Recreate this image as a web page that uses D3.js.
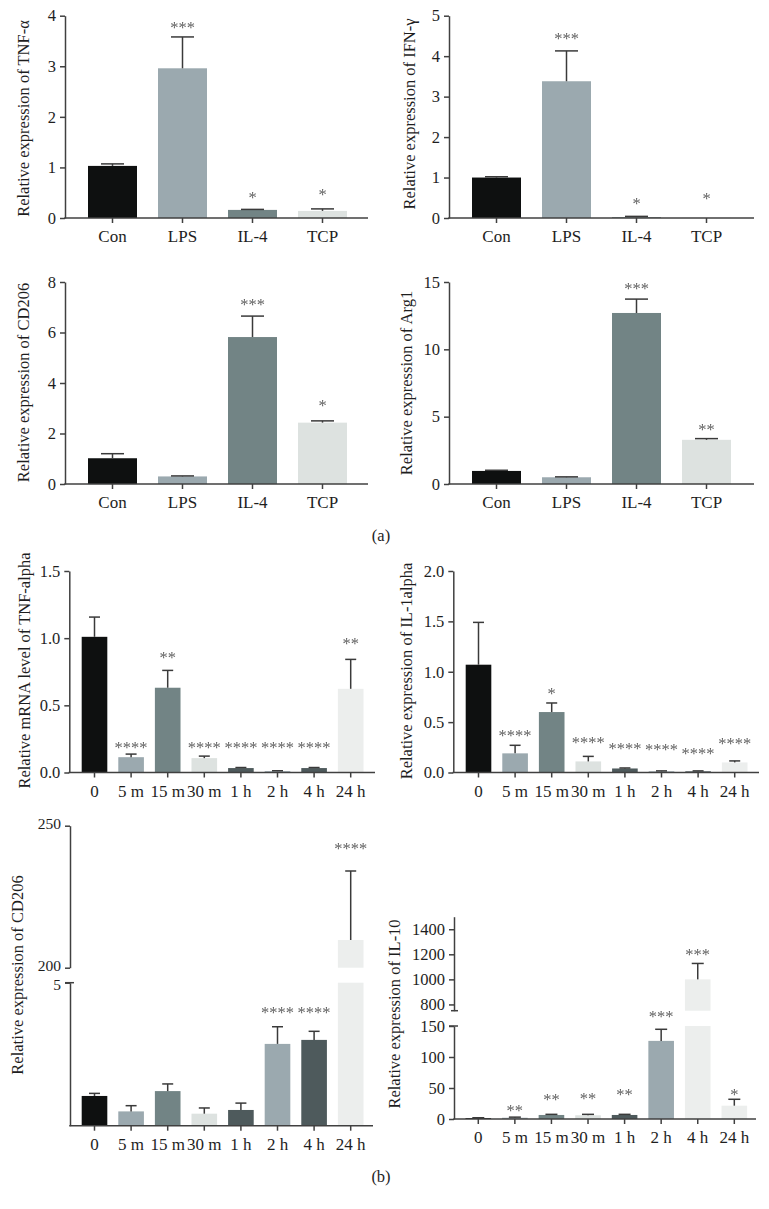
<!DOCTYPE html>
<html><head><meta charset="utf-8">
<script src="https://cdn.jsdelivr.net/npm/d3@7"></script>
<style>
body{margin:0;background:#fff}
text{font-family:"Liberation Serif","Times New Roman",serif}
.star{filter:grayscale(1)}
</style>
</head><body>
<svg id="c" width="769" height="1209"></svg>
<script>
// ---------- data ----------
const catsA = ["Con", "LPS", "IL-4", "TCP"];
const catsB = ["0", "5 m", "15 m", "30 m", "1 h", "2 h", "4 h", "24 h"];

// (a) TNF-α
const tnfMean = [1.03, 2.96, 0.16, 0.14];
const tnfSd = [0.04, 0.62, 0.01, 0.04];
const tnfStars = ["", "***", "*", "*"];
const tnfStarPos = [null, 3.81, 0.45, 0.50];
const tnfTicks = [0, 1, 2, 3, 4];

// (a) IFN-γ
const ifnMean = [1.0, 3.38, 0.02, 0.003];
const ifnSd = [0.02, 0.75, 0.02, 0.0];
const ifnStars = ["", "***", "*", "*"];
const ifnStarPos = [null, 4.48, 0.40, 0.53];
const ifnTicks = [0, 1, 2, 3, 4, 5];

// (a) CD206
const cdaMean = [1.02, 0.30, 5.82, 2.43];
const cdaSd = [0.18, 0.02, 0.83, 0.07];
const cdaStars = ["", "", "***", "*"];
const cdaStarPos = [null, null, 7.17, 3.17];
const cdaTicks = [0, 2, 4, 6, 8];

// (a) Arg1
const argMean = [0.97, 0.50, 12.7, 3.28];
const argSd = [0.05, 0.03, 1.03, 0.09];
const argStars = ["", "", "***", "**"];
const argStarPos = [null, null, 14.7, 4.23];
const argTicks = [0, 5, 10, 15];

// (b) TNF-alpha mRNA
const tnfbMean = [1.01, 0.114, 0.631, 0.107, 0.033, 0.01, 0.033, 0.623];
const tnfbSd = [0.147, 0.023, 0.129, 0.015, 0.004, 0.003, 0.004, 0.219];
const tnfbStars = ["", "****", "**", "****", "****", "****", "****", "**"];
const tnfbStarPos = [null, 0.198, 0.874, 0.198, 0.198, 0.198, 0.198, 0.973];
const tnfbTicks = [0, 0.5, 1.0, 1.5];

// (b) IL-1alpha
const il1Mean = [1.07, 0.19, 0.60, 0.11, 0.04, 0.012, 0.012, 0.10];
const il1Sd = [0.42, 0.08, 0.09, 0.05, 0.005, 0.004, 0.004, 0.015];
const il1Stars = ["", "****", "*", "****", "****", "****", "****", "****"];
const il1StarPos = [null, 0.387, 0.80, 0.32, 0.262, 0.248, 0.21, 0.303];
const il1Ticks = [0, 0.5, 1.0, 1.5, 2.0];

// (b) CD206 (broken axis)
const cdbMean = [1.04, 0.50, 1.21, 0.42, 0.55, 2.86, 3.0, 209.75];
const cdbSd = [0.09, 0.20, 0.25, 0.20, 0.24, 0.60, 0.30, 24.3];
const cdbStars = ["", "", "", "", "", "****", "****", "****"];
const cdbStarPos = [null, null, null, null, null, 4.02, 4.02, 242.6];
const cdbTicksLow = [5];
const cdbTicksHigh = [200, 250];

// (b) IL-10 (broken axis)
const il10Mean = [1.5, 2.0, 6.5, 6.0, 6.5, 126, 1000, 21.5];
const il10Sd = [0.5, 1.0, 1.0, 1.5, 1.0, 18.7, 127, 10.3];
const il10Stars = ["", "**", "**", "**", "**", "***", "***", "*"];
const il10StarPos = [null, 17.3, 35.0, 35.5, 42.4, 169, 1215, 43.0];
const il10TicksLow = [0, 50, 100, 150];
const il10TicksHigh = [800, 1000, 1200, 1400];

// ---------- styles ----------
const BLACK = "#0e1010", BLUEG = "#9ba9af", TEAL = "#728485", LIGHT = "#dde2e0",
      DARK = "#4e5a5c", PALE = "#eceeed";
const colorsA = [BLACK, BLUEG, TEAL, LIGHT];
const colorsB = [BLACK, BLUEG, TEAL, LIGHT, DARK, BLUEG, DARK, PALE];
const colorsIL10 = [BLACK, BLUEG, TEAL, LIGHT, DARK, BLUEG, PALE, PALE];
const AXIS = "#404040", ERR = "#3a3a3a", TXT = "#1e1e1e";
const FONT = '"Liberation Serif","Times New Roman",serif';

const svg = d3.select("#c");

function panel(p) {
  const g = svg.append("g");
  const x = d3.scaleBand().domain(p.cats).range(p.xRange).paddingInner(0.3).paddingOuter(0.15);
  const segs = p.segs.map(s => Object.assign({}, s, {scale: d3.scaleLinear().domain(s.domain).range(s.range)}));
  const segFor = v => {
    let best = segs[0];
    segs.forEach(s => { if (v >= s.domain[0]) best = s; });
    return best;
  };

  // bars
  p.cats.forEach((c, i) => {
    const v = p.mean[i];
    segs.forEach(s => {
      const lo = s.domain[0], hi = s.domain[1];
      if (v > lo) {
        const top = Math.min(v, hi);
        g.append("rect")
          .attr("x", x(c)).attr("width", x.bandwidth())
          .attr("y", s.scale(top)).attr("height", s.scale(lo) - s.scale(top))
          .attr("fill", p.colors[i]);
      }
    });
  });

  // error bars
  p.cats.forEach((c, i) => {
    const v = p.mean[i], e = p.sd[i];
    if (!(e > 0)) return;
    const s = segFor(v);
    const cx = x(c) + x.bandwidth() / 2;
    const y0 = s.scale(v), y1 = s.scale(v + e);
    g.append("line").attr("x1", cx).attr("x2", cx).attr("y1", y0).attr("y2", y1)
      .attr("stroke", ERR).attr("stroke-width", 1.5);
    g.append("line").attr("x1", cx - p.capW / 2).attr("x2", cx + p.capW / 2).attr("y1", y1).attr("y2", y1)
      .attr("stroke", ERR).attr("stroke-width", 1.5);
  });

  // stars
  p.cats.forEach((c, i) => {
    if (!p.stars[i]) return;
    const v = p.starPos[i];
    const s = segFor(v);
    g.append("text").attr("class", "star")
      .attr("x", x(c) + x.bandwidth() / 2).attr("y", s.scale(v) + 7.5)
      .attr("text-anchor", "middle").attr("font-size", 16.5)
      .attr("fill", "#606060")
      .text(p.stars[i]);
  });

  // y axes
  segs.forEach(s => {
    const ax = d3.axisLeft(s.scale).tickValues(s.ticks).tickSize(5).tickSizeOuter(0).tickPadding(4)
      .tickFormat(d3.format(p.fmt));
    const ag = g.append("g").attr("transform", `translate(${p.axisX},0)`).call(ax);
    ag.attr("font-family", FONT).attr("font-size", s.fs || 16.5);
    ag.select(".domain").attr("stroke", AXIS).attr("stroke-width", 1.5);
    ag.selectAll(".tick line").attr("stroke", AXIS).attr("stroke-width", 1.5);
    ag.selectAll(".tick text").attr("fill", TXT);
    if (s.shift) ag.selectAll(".tick text").attr("y", s.shift);
    if (s.stubTop) {
      g.append("line").attr("x1", p.axisX - 5).attr("x2", p.axisX + 4)
        .attr("y1", s.range[1]).attr("y2", s.range[1]).attr("stroke", AXIS).attr("stroke-width", 1.5);
    }
    if (s.stubBottom) {
      g.append("line").attr("x1", p.axisX - 3).attr("x2", p.axisX + 4)
        .attr("y1", s.range[0]).attr("y2", s.range[0]).attr("stroke", AXIS).attr("stroke-width", 1.5);
    }
  });

  // x axis
  g.append("line").attr("x1", p.axisX - 0.75).attr("x2", p.axisEnd)
    .attr("y1", p.xAxisY).attr("y2", p.xAxisY).attr("stroke", AXIS).attr("stroke-width", 1.5);
  const xa = d3.axisBottom(x).tickSize(5).tickSizeOuter(0).tickPadding(7);
  const xg = g.append("g").attr("transform", `translate(0,${p.xAxisY})`).call(xa);
  xg.select(".domain").remove();
  xg.attr("font-family", FONT).attr("font-size", 17);
  xg.selectAll(".tick line").attr("stroke", AXIS).attr("stroke-width", 1.5);
  xg.selectAll(".tick text").attr("fill", TXT);

  // y label
  g.append("text").attr("transform", `translate(${p.labelX},${p.labelY}) rotate(-90)`)
    .attr("text-anchor", "middle").attr("font-size", 16.5).attr("fill", TXT)
    .text(p.label);
}

panel({cats: catsA, mean: tnfMean, sd: tnfSd, stars: tnfStars, starPos: tnfStarPos, colors: colorsA,
  label: "Relative expression of TNF-α", fmt: "d", axisX: 65, xRange: [77.5, 357.5], axisEnd: 368, xAxisY: 218,
  segs: [{domain: [0, 4], range: [218, 15.7], ticks: tnfTicks}], capW: 23, labelX: 29, labelY: 118.5});

panel({cats: catsA, mean: ifnMean, sd: ifnSd, stars: ifnStars, starPos: ifnStarPos, colors: colorsA,
  label: "Relative expression of IFN-γ", fmt: "d", axisX: 449, xRange: [461.5, 741.5], axisEnd: 754, xAxisY: 218,
  segs: [{domain: [0, 5], range: [218, 15.7], ticks: ifnTicks}], capW: 23, labelX: 415, labelY: 114});

panel({cats: catsA, mean: cdaMean, sd: cdaSd, stars: cdaStars, starPos: cdaStarPos, colors: colorsA,
  label: "Relative expression of CD206", fmt: "d", axisX: 65, xRange: [77.5, 357.5], axisEnd: 368, xAxisY: 484,
  segs: [{domain: [0, 8], range: [484, 282], ticks: cdaTicks}], capW: 23, labelX: 29, labelY: 382.5});

panel({cats: catsA, mean: argMean, sd: argSd, stars: argStars, starPos: argStarPos, colors: colorsA,
  label: "Relative expression of Arg1", fmt: "d", axisX: 449, xRange: [461.5, 741.5], axisEnd: 754, xAxisY: 484,
  segs: [{domain: [0, 15], range: [484, 282], ticks: argTicks}], capW: 23, labelX: 412, labelY: 383});

panel({cats: catsB, mean: tnfbMean, sd: tnfbSd, stars: tnfbStars, starPos: tnfbStarPos, colors: colorsB,
  label: "Relative mRNA level of TNF-alpha", fmt: ".1f", axisX: 69.3, xRange: [76.2, 369], axisEnd: 375, xAxisY: 772.5,
  segs: [{domain: [0, 1.5], range: [772.5, 571], ticks: tnfbTicks}], capW: 11, labelX: 29.5, labelY: 670.5});

panel({cats: catsB, mean: il1Mean, sd: il1Sd, stars: il1Stars, starPos: il1StarPos, colors: colorsB,
  label: "Relative expression of IL-1alpha", fmt: ".1f", axisX: 453.3, xRange: [460.2, 753], axisEnd: 759, xAxisY: 772.5,
  segs: [{domain: [0, 2], range: [772.5, 571], ticks: il1Ticks}], capW: 11, labelX: 412, labelY: 671});

panel({cats: catsB, mean: cdbMean, sd: cdbSd, stars: cdbStars, starPos: cdbStarPos, colors: colorsB,
  label: "Relative expression of CD206", fmt: "d", axisX: 70, xRange: [76.2, 369], axisEnd: 373, xAxisY: 1125.7,
  segs: [{domain: [0, 5], range: [1125.7, 982.7], ticks: cdbTicksLow, stubTop: true, fs: 15.5, shift: 2},
         {domain: [200, 250], range: [967.7, 825.7], ticks: cdbTicksHigh, fs: 15.5, shift: -2}],
  capW: 11, labelX: 23, labelY: 975});

panel({cats: catsB, mean: il10Mean, sd: il10Sd, stars: il10Stars, starPos: il10StarPos, colors: colorsIL10,
  label: "Relative expression of IL-10", fmt: "d", axisX: 454, xRange: [460, 752.6], axisEnd: 756, xAxisY: 1119,
  segs: [{domain: [0, 150], range: [1119, 1026], ticks: il10TicksLow, stubTop: true},
         {domain: [750, 1500], range: [1010.7, 916.7], ticks: il10TicksHigh, stubBottom: true}],
  capW: 12, labelX: 400, labelY: 1014});

svg.append("text").attr("x", 381).attr("y", 541).attr("text-anchor", "middle")
  .attr("font-size", 16.5).attr("fill", TXT).text("(a)");
svg.append("text").attr("x", 381).attr("y", 1182).attr("text-anchor", "middle")
  .attr("font-size", 16.5).attr("fill", TXT).text("(b)");
</script>
</body></html>
